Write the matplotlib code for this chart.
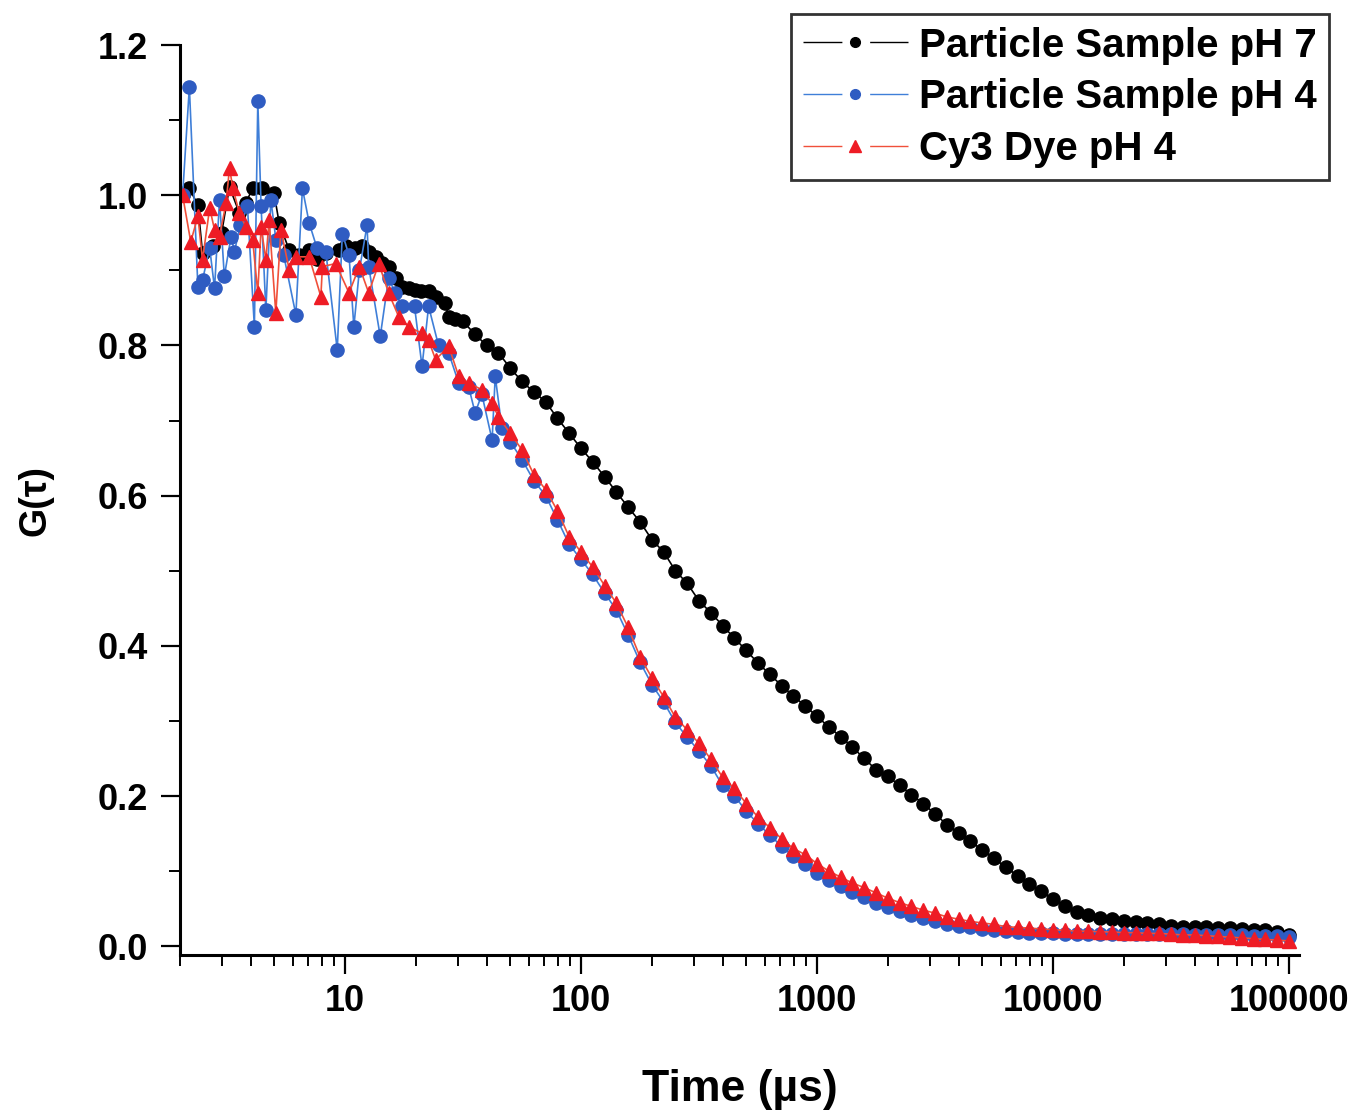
import matplotlib.pyplot as plt
from matplotlib.lines import Line2D
from matplotlib.ticker import LogLocator, FixedLocator, NullFormatter

plt.rcParams['font.family'] = ['Liberation Sans', 'DejaVu Sans']
plt.rcParams['font.weight'] = 'bold'

# Particle Sample pH 7
t_ph7 = [2.05, 2.19, 2.38, 2.49, 2.75, 3.0, 3.24, 3.57, 3.8, 4.06,
         4.47, 5.0, 5.26, 5.8, 6.4, 7.05, 7.6, 8.29, 9.44, 10.1,
         11.0, 11.8, 12.6, 13.5, 14.4, 15.3, 16.4, 17.5, 18.6, 19.7,
         21.0, 22.6, 24.2, 26.6, 27.5, 29.2,
         31.6, 35.5, 39.8, 44.7, 50.1, 56.2, 63.1, 70.8, 79.4, 89.1,
         100, 112, 126, 141, 158, 178, 200, 224, 251, 282,
         316, 355, 398, 447, 501, 562, 631, 708, 794, 891,
         1000, 1122, 1259, 1413, 1585, 1778, 1995, 2239, 2512, 2818,
         3162, 3548, 3981, 4467, 5012, 5623, 6310, 7079, 7943, 8913,
         10000, 11220, 12590, 14130, 15850, 17780, 19950, 22390, 25120, 28180,
         31620, 35480, 39810, 44670, 50120, 56230, 63100, 70790, 79430, 89130,
         100000]
g_ph7 = [1.00, 1.009, 0.987, 0.923, 0.932, 0.95, 1.011, 0.976, 0.99, 1.009,
         1.009, 1.003, 0.963, 0.927, 0.92, 0.927, 0.915, 0.923, 0.927, 0.932,
         0.93, 0.932, 0.925, 0.918, 0.91, 0.905, 0.89, 0.878, 0.876, 0.874,
         0.872, 0.872, 0.865, 0.856, 0.838, 0.835,
         0.832, 0.815, 0.80, 0.79, 0.77, 0.752, 0.738, 0.725, 0.703, 0.683,
         0.663, 0.645, 0.625, 0.605, 0.585, 0.565, 0.541, 0.525, 0.50, 0.483,
         0.46, 0.444, 0.427, 0.41, 0.394, 0.377, 0.362, 0.347, 0.333, 0.32,
         0.306, 0.292, 0.279, 0.265, 0.25, 0.235, 0.226, 0.214, 0.202, 0.19,
         0.176, 0.162, 0.151, 0.14, 0.128, 0.117, 0.105, 0.094, 0.083, 0.073,
         0.063, 0.054, 0.046, 0.041, 0.038, 0.036, 0.034, 0.032, 0.031, 0.029,
         0.027, 0.026, 0.025, 0.025, 0.024, 0.024, 0.023, 0.022, 0.021, 0.019,
         0.015]

# Particle Sample pH 4
t_ph4 = [2.05, 2.19, 2.38, 2.49, 2.67, 2.80, 2.94, 3.08, 3.29, 3.40,
         3.6, 3.86, 4.13, 4.27, 4.41, 4.62, 4.85, 5.1, 5.5, 6.19,
         6.60, 7.05, 7.6, 8.29, 9.27, 9.74, 10.4, 10.9, 11.5, 12.4,
         12.6, 14.1, 15.3, 16.3, 17.5, 19.7, 21.2, 22.6, 24.9, 27.5,
         30.3, 33.4, 35.6, 38, 42, 43.3, 46.2,
         50.1, 56.2, 63.1, 70.8, 79.4, 89.1,
         100, 112, 126, 141, 158, 178, 200, 224, 251, 282,
         316, 355, 398, 447, 501, 562, 631, 708, 794, 891,
         1000, 1122, 1259, 1413, 1585, 1778, 1995, 2239, 2512, 2818,
         3162, 3548, 3981, 4467, 5012, 5623, 6310, 7079, 7943, 8913,
         10000, 11220, 12590, 14130, 15850, 17780, 19950, 22390, 25120, 28180,
         31620, 35480, 39810, 44670, 50120, 56230, 63100, 70790, 79430, 89130,
         100000]
g_ph4 = [1.0, 1.144, 0.878, 0.887, 0.93, 0.876, 0.994, 0.892, 0.945, 0.925,
         0.96, 0.985, 0.825, 1.125, 0.985, 0.847, 0.994, 0.94, 0.92, 0.841,
         1.009, 0.963, 0.93, 0.925, 0.794, 0.949, 0.92, 0.825, 0.90, 0.960,
         0.905, 0.812, 0.89, 0.87, 0.852, 0.852, 0.772, 0.852, 0.80, 0.79,
         0.75, 0.745, 0.71, 0.735, 0.674, 0.759, 0.69,
         0.672, 0.648, 0.62, 0.60, 0.568, 0.535,
         0.515, 0.495, 0.47, 0.448, 0.415, 0.378, 0.348, 0.325, 0.298, 0.278,
         0.26, 0.24, 0.214, 0.20, 0.18, 0.163, 0.148, 0.133, 0.12, 0.11,
         0.098, 0.088, 0.08, 0.072, 0.065, 0.058, 0.052, 0.047, 0.042, 0.037,
         0.033, 0.03, 0.027, 0.025, 0.023, 0.021, 0.02, 0.019, 0.018, 0.017,
         0.017, 0.016, 0.016, 0.016, 0.016, 0.016, 0.016, 0.016, 0.016, 0.016,
         0.016, 0.016, 0.015, 0.015, 0.015, 0.015, 0.015, 0.014, 0.014, 0.013,
         0.012]

# Cy3 Dye pH 4
t_cy3 = [2.05, 2.22, 2.38, 2.49, 2.67, 2.80, 2.94, 3.13, 3.24, 3.35,
         3.57, 3.80, 4.06, 4.27, 4.41, 4.62, 4.77, 5.09, 5.35, 5.80,
         6.19, 7.05, 7.9, 8.02, 9.13, 10.4, 11.5, 12.6, 13.9, 15.3,
         16.9, 18.6, 21.2, 22.6, 24.2, 27.5, 30.3, 33.4, 38, 41.9,
         44.7, 50.1, 56.2, 63.1, 70.8, 79.4, 89.1,
         100, 112, 126, 141, 158, 178, 200, 224, 251, 282,
         316, 355, 398, 447, 501, 562, 631, 708, 794, 891,
         1000, 1122, 1259, 1413, 1585, 1778, 1995, 2239, 2512, 2818,
         3162, 3548, 3981, 4467, 5012, 5623, 6310, 7079, 7943, 8913,
         10000, 11220, 12590, 14130, 15850, 17780, 19950, 22390, 25120, 28180,
         31620, 35480, 39810, 44670, 50120, 56230, 63100, 70790, 79430, 89130,
         100000]
g_cy3 = [1.0, 0.938, 0.972, 0.914, 0.983, 0.954, 0.945, 0.989, 1.036, 1.009,
         0.976, 0.958, 0.941, 0.870, 0.958, 0.914, 0.967, 0.843, 0.954, 0.901,
         0.918, 0.918, 0.865, 0.905, 0.909, 0.870, 0.905, 0.870, 0.909, 0.870,
         0.838, 0.825, 0.816, 0.807, 0.781, 0.799, 0.759, 0.750, 0.741, 0.723,
         0.705, 0.683, 0.661, 0.628, 0.608, 0.58, 0.545,
         0.525, 0.505, 0.48, 0.457, 0.425, 0.385, 0.357, 0.332, 0.305, 0.288,
         0.27, 0.249, 0.225, 0.21, 0.19, 0.172, 0.158, 0.143, 0.13, 0.122,
         0.11, 0.10, 0.092, 0.084, 0.078, 0.071, 0.064, 0.058, 0.053, 0.048,
         0.044, 0.039, 0.036, 0.033, 0.031, 0.029, 0.026, 0.025, 0.024, 0.023,
         0.022, 0.021, 0.02, 0.02, 0.019, 0.019, 0.018, 0.018, 0.017, 0.017,
         0.016, 0.015, 0.015, 0.014, 0.013, 0.012, 0.011, 0.010, 0.009, 0.008,
         0.007]

series = [
    ('Particle Sample pH 7', t_ph7, g_ph7, 'o', 'black', 'black'),
    ('Particle Sample pH 4', t_ph4, g_ph4, 'o', '#2f5cc2', '#3f7fd8'),
    ('Cy3 Dye pH 4', t_cy3, g_cy3, '^', '#ee1c25', '#f0503a'),
]

fig = plt.figure(figsize=(13.61, 11.12), dpi=100)
ax = fig.add_axes([0.1323, 0.141, 0.822, 0.8185])

handles = []
for name, t, g, mk, mcol, lcol in series:
    ms = 10.5 if mk == '^' else 9.5
    ax.plot(t, g, '-', color=lcol, lw=1.2, marker=mk, ms=ms,
            mfc=mcol, mec=mcol)
    seg = Line2D([], [], color=lcol, lw=1.0, dashes=(28, 20))
    dot = Line2D([], [], ls='none', marker=mk, ms=7 if mk == 'o' else 8,
                 mfc=mcol, mec=mcol)
    handles.append((seg, dot))

ax.set_xscale('log')
ax.set_xlim(2, 110000)
ax.set_ylim(-0.012, 1.2)

ax.xaxis.set_major_locator(FixedLocator([10, 100, 1000, 10000, 100000]))
ax.set_xticklabels(['10', '100', '1000', '10000', '100000'])
ax.xaxis.set_minor_locator(LogLocator(base=10, subs=range(2, 10), numticks=20))
ax.xaxis.set_minor_formatter(NullFormatter())
ax.set_yticks([0.0, 0.2, 0.4, 0.6, 0.8, 1.0, 1.2])
ax.set_yticklabels(['0.0', '0.2', '0.4', '0.6', '0.8', '1.0', '1.2'])
ax.set_yticks([0.1, 0.3, 0.5, 0.7, 0.9, 1.1], minor=True)

for s in ['top', 'right']:
    ax.spines[s].set_visible(False)
for s in ['left', 'bottom']:
    ax.spines[s].set_linewidth(2.2)

ax.tick_params(which='major', direction='out', length=14, width=1.6,
               labelsize=26)
ax.tick_params(which='minor', direction='out', length=8, width=1.4)
ax.tick_params(axis='y', which='major', pad=9)
ax.tick_params(axis='x', which='major', pad=7)

ax.set_xlabel('Time (µs)', fontsize=32, fontweight='bold', labelpad=36)
ax.set_ylabel('G(τ)', fontsize=27, fontweight='bold', labelpad=32)

leg = ax.legend(handles, [s[0] for s in series],
                loc='upper left', bbox_to_anchor=(0.581, 0.987),
                bbox_transform=fig.transFigure, borderaxespad=0,
                fontsize=29, frameon=True, fancybox=False,
                handlelength=2.6, handletextpad=0.28, labelspacing=0.34,
                borderpad=0.3)
leg.get_frame().set_edgecolor('black')
leg.get_frame().set_linewidth(2)

fig.savefig('out.png', dpi=100)
